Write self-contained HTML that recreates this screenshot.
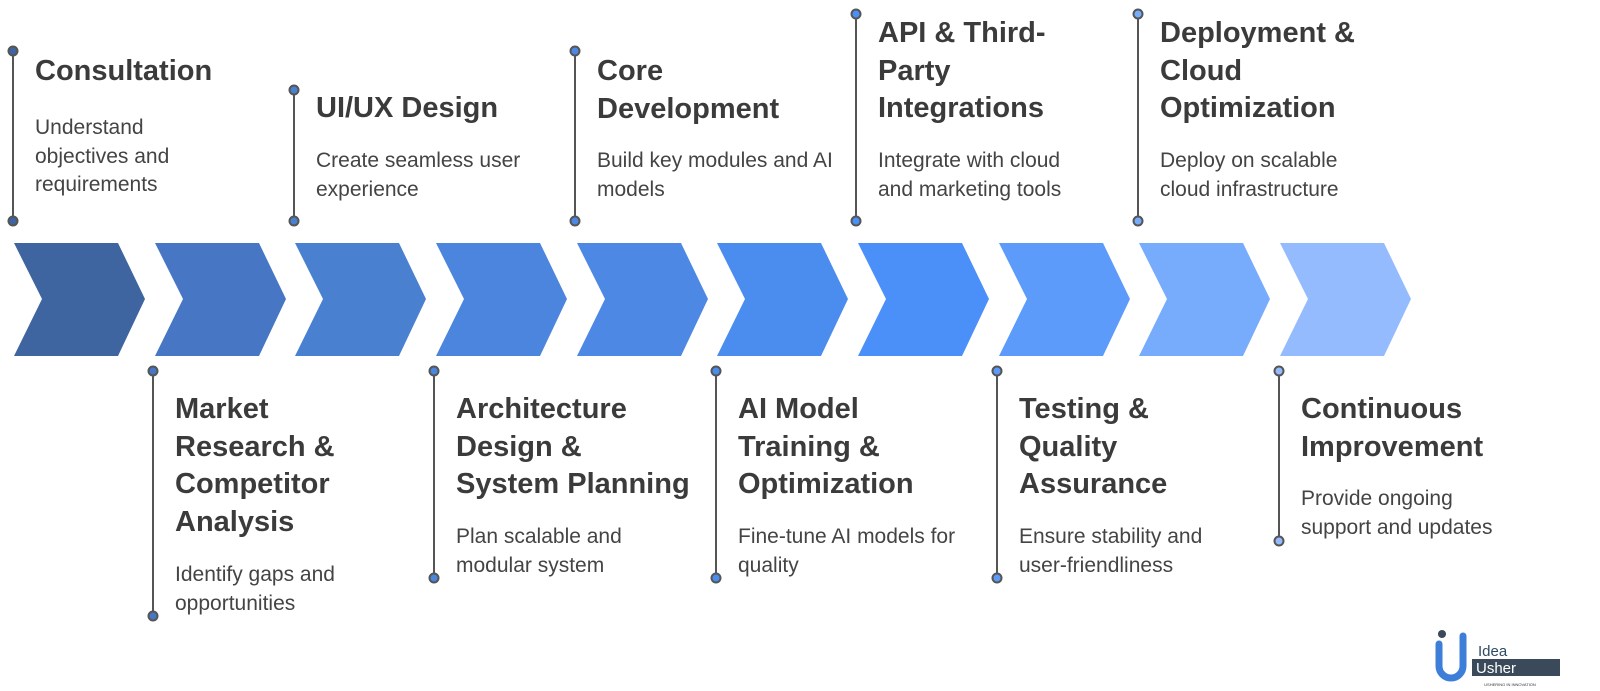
<!DOCTYPE html>
<html><head><meta charset="utf-8"><style>
body{margin:0;width:1600px;height:691px;background:#fff;position:relative;overflow:hidden;font-family:"Liberation Sans",sans-serif}
.t{position:absolute;font-weight:bold;font-size:29px;line-height:37.5px;color:#3b3b3b;white-space:nowrap}
.d{position:absolute;font-size:21px;line-height:28.5px;color:#444;white-space:nowrap}
</style></head><body>
<svg width="1600" height="691" style="position:absolute;left:0;top:0">
<g stroke="#555" stroke-width="2">
<line x1="13" y1="51" x2="13" y2="221"/><circle cx="13" cy="51" r="4.5" fill="#3f65a0"/><circle cx="13" cy="221" r="4.5" fill="#3f65a0"/>
<line x1="294" y1="90" x2="294" y2="221"/><circle cx="294" cy="90" r="4.5" fill="#4a80d0"/><circle cx="294" cy="221" r="4.5" fill="#4a80d0"/>
<line x1="575" y1="51" x2="575" y2="221"/><circle cx="575" cy="51" r="4.5" fill="#4d88e5"/><circle cx="575" cy="221" r="4.5" fill="#4d88e5"/>
<line x1="856" y1="14" x2="856" y2="221"/><circle cx="856" cy="14" r="4.5" fill="#4b8ff9"/><circle cx="856" cy="221" r="4.5" fill="#4b8ff9"/>
<line x1="1138" y1="14" x2="1138" y2="221"/><circle cx="1138" cy="14" r="4.5" fill="#77abfc"/><circle cx="1138" cy="221" r="4.5" fill="#77abfc"/>
<line x1="153" y1="371" x2="153" y2="616"/><circle cx="153" cy="371" r="4.5" fill="#4777c4"/><circle cx="153" cy="616" r="4.5" fill="#4777c4"/>
<line x1="434" y1="371" x2="434" y2="578"/><circle cx="434" cy="371" r="4.5" fill="#4c85dd"/><circle cx="434" cy="578" r="4.5" fill="#4c85dd"/>
<line x1="716" y1="371" x2="716" y2="578"/><circle cx="716" cy="371" r="4.5" fill="#4b8cef"/><circle cx="716" cy="578" r="4.5" fill="#4b8cef"/>
<line x1="997" y1="371" x2="997" y2="578"/><circle cx="997" cy="371" r="4.5" fill="#5d9bfb"/><circle cx="997" cy="578" r="4.5" fill="#5d9bfb"/>
<line x1="1279" y1="371" x2="1279" y2="541"/><circle cx="1279" cy="371" r="4.5" fill="#93bbfd"/><circle cx="1279" cy="541" r="4.5" fill="#93bbfd"/>
</g>
<g>
<polygon points="14,243 42,299 14,356 118,356 145,299 118,243" fill="#3f65a0"/>
<polygon points="155,243 183,299 155,356 259,356 286,299 259,243" fill="#4777c4"/>
<polygon points="295,243 323,299 295,356 399,356 426,299 399,243" fill="#4a80d0"/>
<polygon points="436,243 464,299 436,356 540,356 567,299 540,243" fill="#4c85dd"/>
<polygon points="577,243 605,299 577,356 681,356 708,299 681,243" fill="#4d88e5"/>
<polygon points="717,243 745,299 717,356 821,356 848,299 821,243" fill="#4b8cef"/>
<polygon points="858,243 886,299 858,356 962,356 989,299 962,243" fill="#4b8ff9"/>
<polygon points="999,243 1027,299 999,356 1103,356 1130,299 1103,243" fill="#5d9bfb"/>
<polygon points="1139,243 1167,299 1139,356 1243,356 1270,299 1243,243" fill="#77abfc"/>
<polygon points="1280,243 1308,299 1280,356 1384,356 1411,299 1384,243" fill="#93bbfd"/>
</g>
<circle cx="1442" cy="634" r="4" fill="#3b4a5a"/>
<path d="M1439 644 v22 a12 12 0 0 0 24 0 v-30" stroke="#3d7fd8" stroke-width="7" fill="none" stroke-linecap="round"/>
<text x="1478" y="656" font-family="Liberation Sans" font-size="15" fill="#2f4a63">Idea</text>
<rect x="1472" y="659" width="88" height="17" fill="#3b4a5a"/>
<text x="1476" y="673" font-family="Liberation Sans" font-size="15" fill="#fff">Usher</text>
<text x="1510" y="686" font-family="Liberation Sans" font-size="4" fill="#333" text-anchor="middle">USHERING IN INNOVATION</text>
</svg>
<div class="t" style="left:35px;top:53px">Consultation</div>
<div class="d" style="left:35px;top:114px">Understand<br>objectives and<br>requirements</div>
<div class="t" style="left:316px;top:90px">UI/UX Design</div>
<div class="d" style="left:316px;top:147px">Create seamless user<br>experience</div>
<div class="t" style="left:597px;top:53px">Core<br>Development</div>
<div class="d" style="left:597px;top:147px">Build key modules and AI<br>models</div>
<div class="t" style="left:878px;top:15px">API &amp; Third-<br>Party<br>Integrations</div>
<div class="d" style="left:878px;top:147px">Integrate with cloud<br>and marketing tools</div>
<div class="t" style="left:1160px;top:15px">Deployment &amp;<br>Cloud<br>Optimization</div>
<div class="d" style="left:1160px;top:147px">Deploy on scalable<br>cloud infrastructure</div>
<div class="t" style="left:175px;top:391px">Market<br>Research &amp;<br>Competitor<br>Analysis</div>
<div class="d" style="left:175px;top:561px">Identify gaps and<br>opportunities</div>
<div class="t" style="left:456px;top:391px">Architecture<br>Design &amp;<br>System Planning</div>
<div class="d" style="left:456px;top:523px">Plan scalable and<br>modular system</div>
<div class="t" style="left:738px;top:391px">AI Model<br>Training &amp;<br>Optimization</div>
<div class="d" style="left:738px;top:523px">Fine-tune AI models for<br>quality</div>
<div class="t" style="left:1019px;top:391px">Testing &amp;<br>Quality<br>Assurance</div>
<div class="d" style="left:1019px;top:523px">Ensure stability and<br>user-friendliness</div>
<div class="t" style="left:1301px;top:391px">Continuous<br>Improvement</div>
<div class="d" style="left:1301px;top:485px">Provide ongoing<br>support and updates</div>
</body></html>
